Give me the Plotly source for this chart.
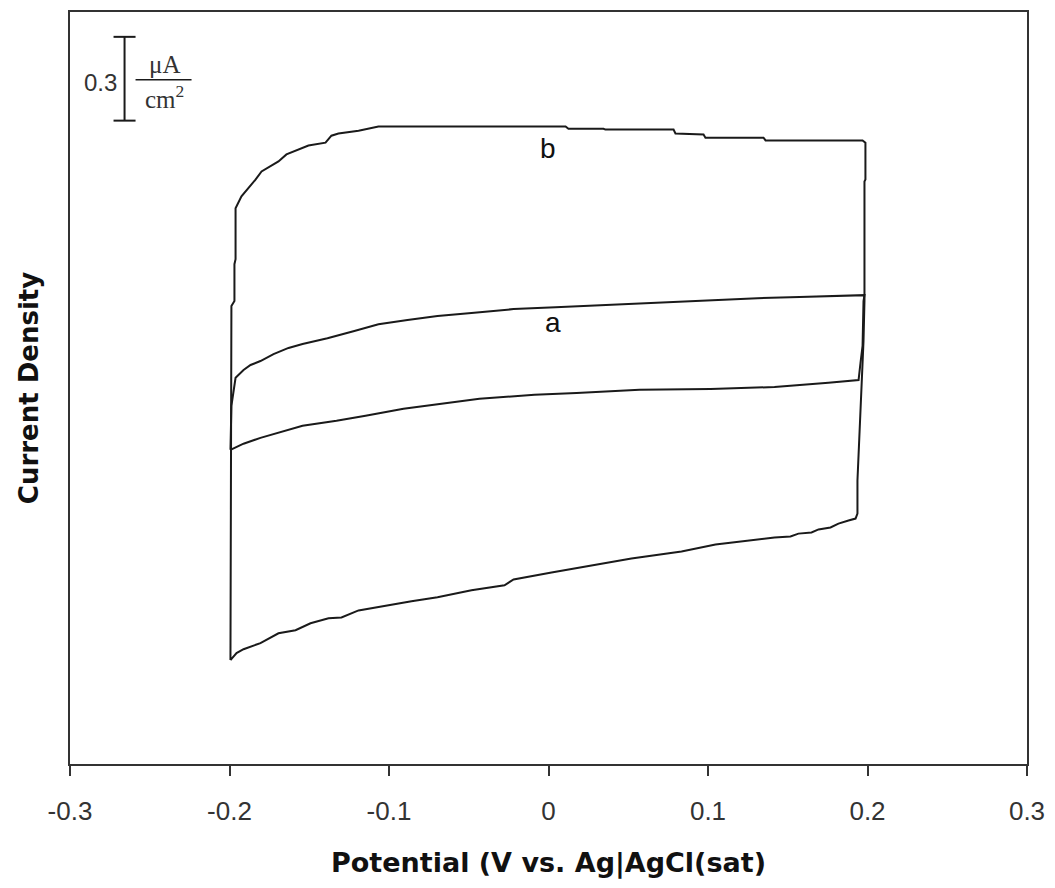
import plotly.graph_objects as go

# Cyclic voltammograms: potential (V vs. Ag|AgCl) and current density (uA/cm^2)
pot_b = [-0.1994, -0.1988, -0.1969, -0.1969, -0.1962, -0.1962,
         -0.1925, -0.1881, -0.1837, -0.1799, -0.1693, -0.1643, -0.1567, -0.1505,
         -0.1398, -0.1361, -0.1317, -0.1191, -0.1066, -0.0627, 0.0107, 0.0125,
         0.0345, 0.0357, 0.0784, 0.0796, 0.0972, 0.0984, 0.1348, 0.1361, 0.1969,
         0.1987,
         0.1987, 0.1981, 0.1981, 0.1975, 0.1969, 0.1956, 0.1937, 0.1937,
         0.1925, 0.1881, 0.1818, 0.1768, 0.1693, 0.1649, 0.1567, 0.1517, 0.1417,
         0.1047, 0.0834, 0.0520, 0.0226, 0.0019, -0.0219, -0.0276, -0.0483,
         -0.0696, -0.0859, -0.1066, -0.1191, -0.1298, -0.1379, -0.1492, -0.1586,
         -0.1693, -0.1774, -0.1806, -0.1912, -0.1956, -0.1994]
cur_b = [-0.857, 0.411, 0.429, 0.561, 0.579, 0.761,
         0.804, 0.832, 0.864, 0.893, 0.929, 0.954, 0.971, 0.986,
         0.996, 1.021, 1.029, 1.039, 1.054, 1.054, 1.054, 1.046,
         1.046, 1.043, 1.043, 1.029, 1.025, 1.014, 1.014, 1.004, 1.004,
         0.996,
         0.864, 0.857, 0.429, 0.286, 0.214, 0.000, -0.214, -0.332,
         -0.350, -0.357, -0.368, -0.382, -0.389, -0.400, -0.404, -0.414, -0.418,
         -0.443, -0.468, -0.493, -0.521, -0.543, -0.568, -0.589, -0.607,
         -0.632, -0.646, -0.668, -0.679, -0.704, -0.707, -0.725, -0.750,
         -0.761, -0.786, -0.796, -0.818, -0.832, -0.857]

pot_a = [-0.1994, -0.1988, -0.1962,
         -0.1912, -0.1868, -0.1806, -0.1724, -0.1630, -0.1542, -0.1386, -0.1223,
         -0.1066, -0.0884, -0.0696, -0.0483, -0.0219, 0.0044, 0.0307, 0.0652,
         0.0966, 0.1310, 0.1574, 0.1981,
         0.1975, 0.1969, 0.1956, 0.1944, 0.1944,
         0.1755, 0.1417, 0.1016, 0.0571, 0.0176, -0.0088, -0.0433, -0.0671,
         -0.0909, -0.1147, -0.1329, -0.1542, -0.1674, -0.1806, -0.1912, -0.1994]
cur_a = [-0.104, 0.054, 0.154,
         0.182, 0.200, 0.214, 0.239, 0.261, 0.275, 0.296, 0.321,
         0.346, 0.361, 0.375, 0.386, 0.400, 0.407, 0.414, 0.421,
         0.429, 0.439, 0.443, 0.450,
         0.429, 0.268, 0.207, 0.161, 0.146,
         0.136, 0.121, 0.114, 0.111, 0.100, 0.093, 0.079, 0.061,
         0.043, 0.018, 0.000, -0.018, -0.039, -0.061, -0.082, -0.104]

x_ticks = [-0.3, -0.2, -0.1, 0, 0.1, 0.2, 0.3]
x_tick_text = ["-0.3", "-0.2", "-0.1", "0", "0.1", "0.2", "0.3"]

# 0.3 uA/cm^2 scale bar
bar_x = -0.2658
bar_y0, bar_len = 1.075, 0.3
cap_half = 0.0069

line_col = "#1a1a1a"
axis_col = "#333333"
sans = "Liberation Sans, Arial, sans-serif"
wide_bold = "DejaVu Sans, Verdana, sans-serif"
serif = "Liberation Serif, Times New Roman, serif"

fig = go.Figure()
fig.add_trace(go.Scatter(x=pot_b, y=cur_b, mode="lines",
                         line=dict(color=line_col, width=2), showlegend=False))
fig.add_trace(go.Scatter(x=pot_a, y=cur_a, mode="lines",
                         line=dict(color=line_col, width=2), showlegend=False))

# scale bar with end caps
fig.add_trace(go.Scatter(
    x=[bar_x - cap_half, bar_x + cap_half, None, bar_x, bar_x, None,
       bar_x - cap_half, bar_x + cap_half],
    y=[bar_y0 + bar_len, bar_y0 + bar_len, None, bar_y0 + bar_len, bar_y0, None,
       bar_y0, bar_y0],
    mode="lines", line=dict(color=line_col, width=2), showlegend=False))
# fraction bar of the unit
fig.add_trace(go.Scatter(x=[-0.2589, -0.2238], y=[1.221, 1.221], mode="lines",
                         line=dict(color=line_col, width=1.5), showlegend=False))

annotations = [
    dict(x=-0.2692, y=1.212, text="0.3", xanchor="right", yanchor="middle",
         font=dict(family=sans, size=24, color="#333333")),
    dict(x=-0.2405, y=1.276, text="\u03bcA", xanchor="center", yanchor="middle",
         font=dict(family=serif, size=25, color="#333333")),
    dict(x=-0.2405, y=1.160, text="cm<sup>2</sup>", xanchor="center", yanchor="middle",
         font=dict(family=serif, size=25, color="#333333")),
    dict(x=-0.0006, y=0.975, text="b", xanchor="center", yanchor="middle",
         font=dict(family=sans, size=28, color="#111111")),
    dict(x=0.0031, y=0.352, text="a", xanchor="center", yanchor="middle",
         font=dict(family=sans, size=28, color="#111111")),
]
for a in annotations:
    a.update(xref="x", yref="y", showarrow=False)

fig.update_layout(
    width=1055, height=888,
    margin=dict(l=70, r=28, t=10, b=124),
    paper_bgcolor="white", plot_bgcolor="white",
    annotations=annotations,
    xaxis=dict(range=[-0.3, 0.3], tickvals=x_ticks, ticktext=x_tick_text,
               ticks="outside", ticklen=10, tickwidth=2, tickcolor=axis_col,
               showline=True, linecolor=axis_col, linewidth=2, mirror=True,
               showgrid=False, zeroline=False, ticklabelstandoff=13,
               tickfont=dict(family=sans, size=26, color="#333333"),
               title=dict(text="Potential (V vs. Ag|AgCl(sat)", standoff=28,
                          font=dict(family=wide_bold, size=27, color="#111111",
                                    weight="bold"))),
    yaxis=dict(range=[-1.229, 1.464], showticklabels=False, ticks="",
               showline=True, linecolor=axis_col, linewidth=2, mirror=True,
               showgrid=False, zeroline=False,
               title=dict(text="Current Density", standoff=22,
                          font=dict(family=wide_bold, size=26, color="#111111",
                                    weight="bold"))),
)

fig.write_html("out.html")
